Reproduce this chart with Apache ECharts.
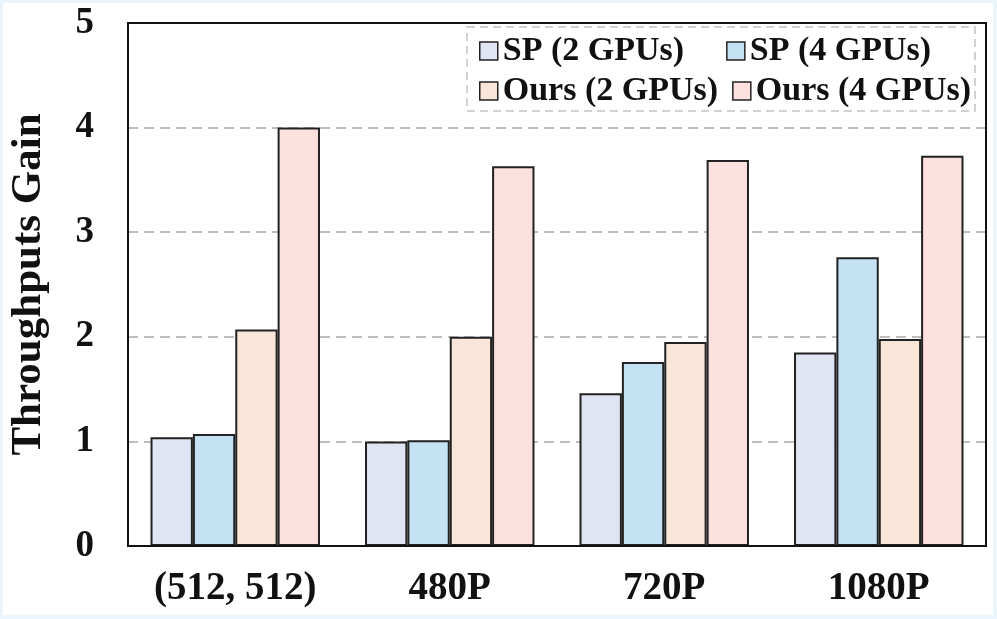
<!DOCTYPE html>
<html>
<head>
<meta charset="utf-8">
<script src="https://cdn.jsdelivr.net/npm/echarts@6/dist/echarts.min.js"></script>
<style>
  html, body { margin: 0; padding: 0; background: #eaf5fc; width: 997px; height: 619px; overflow: hidden; }
  #chart { position: absolute; left: 3px; top: 3px; width: 990px; height: 612px; background: #ffffff; }
</style>
</head>
<body>
<div id="chart"></div>
<script>
const categories = ['(512, 512)', '480P', '720P', '1080P'];
const seriesNames = ['SP (2 GPUs)', 'SP (4 GPUs)', 'Ours (2 GPUs)', 'Ours (4 GPUs)'];
const sp2 = [1.04, 1.00, 1.46, 1.85];
const sp4 = [1.07, 1.01, 1.76, 2.76];
const ours2 = [2.07, 2.00, 1.95, 1.98];
const ours4 = [4.00, 3.63, 3.69, 3.73];
const yTicks = [0, 1, 2, 3, 4, 5];
const colors = ['#dfe5f2', '#c5e2f5', '#fae6d9', '#fde1df'];

const FONT = "'Liberation Serif', 'Times New Roman', serif";
const chart = echarts.init(document.getElementById('chart'), null, { renderer: 'canvas' });

const values = [sp2, sp4, ours2, ours4];
const series = seriesNames.map((n, i) => ({
  name: n,
  type: 'bar',
  data: values[i],
  barGap: '0%',
  barCategoryGap: '21%',
  itemStyle: { color: colors[i], borderColor: '#222', borderWidth: 2 },
  z: 3
}));

const legendText = { fontFamily: FONT, fontWeight: 'bold', fontSize: 34, color: '#111' };
const legendItem = { borderColor: '#222', borderWidth: 1.5 };

chart.setOption({
  animation: false,
  backgroundColor: '#ffffff',
  grid: { left: 125, top: 20, right: 7, bottom: 69, show: true, borderColor: '#111', borderWidth: 2, containLabel: false, outerBoundsMode: 'none', z: 8 },
  graphic: [{
    type: 'rect',
    shape: { x: 464, y: 24, width: 508, height: 84 },
    style: { fill: '#ffffff', stroke: '#c4c4c4', lineWidth: 1.5, lineDash: [8, 5] },
    z: 10
  }],
  legend: [
    {
      data: seriesNames.slice(0, 2),
      left: 476, top: 31,
      itemWidth: 18, itemHeight: 18, itemGap: 42,
      textStyle: legendText, itemStyle: legendItem,
      icon: 'rect', z: 20, padding: 0
    },
    {
      data: seriesNames.slice(2, 4),
      left: 476, top: 71,
      itemWidth: 18, itemHeight: 18, itemGap: 14,
      textStyle: legendText, itemStyle: legendItem,
      icon: 'rect', z: 20, padding: 0
    }
  ],
  xAxis: {
    type: 'category',
    data: categories,
    axisLine: { show: true, lineStyle: { color: '#111', width: 2 } },
    axisTick: { show: false },
    axisLabel: { interval: 0, fontFamily: FONT, fontWeight: 'bold', fontSize: 39, color: '#111', margin: 23 }
  },
  yAxis: {
    type: 'value',
    min: yTicks[0], max: yTicks[yTicks.length - 1], interval: 1,
    name: 'Throughputs Gain',
    nameLocation: 'middle',
    nameGap: 78,
    nameTextStyle: { fontFamily: FONT, fontWeight: 'bold', fontSize: 43, color: '#111' },
    axisLine: { show: true, lineStyle: { color: '#111', width: 2 } },
    axisTick: { show: false },
    axisLabel: { fontFamily: FONT, fontWeight: 'bold', fontSize: 37, color: '#111', margin: 34 },
    splitLine: { show: true, lineStyle: { color: '#bdbdbd', width: 2, type: [10, 6] } }
  },
  series: series
});
</script>
</body>
</html>
